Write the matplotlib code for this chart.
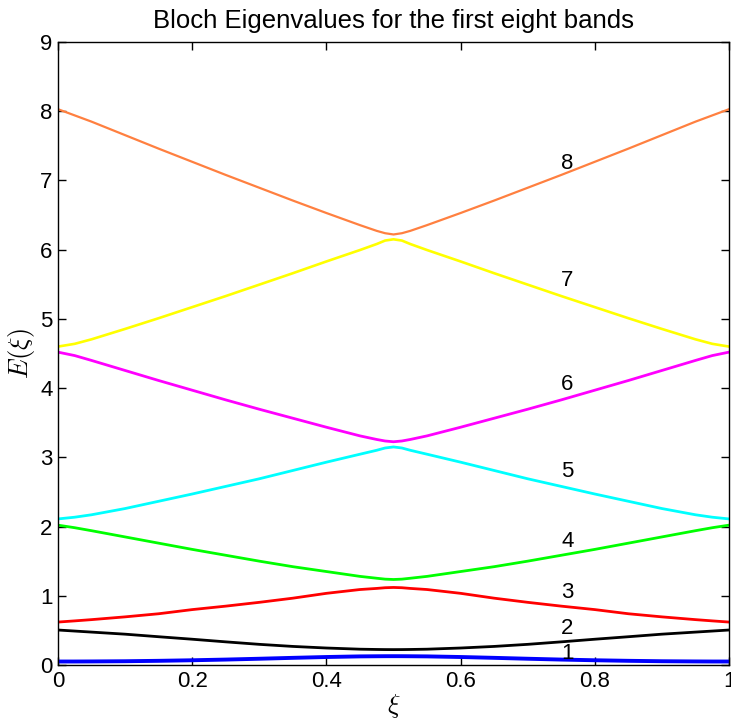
import matplotlib
matplotlib.use("Agg")
import matplotlib.pyplot as plt

plt.rcParams['font.family'] = ['Liberation Sans', 'DejaVu Sans']
plt.rcParams['mathtext.fontset'] = 'cm'

xi = [0, 0.025, 0.05, 0.1, 0.15, 0.2, 0.25, 0.3, 0.35, 0.4, 0.45, 0.475, 0.4875, 0.5,
      0.5125, 0.525, 0.55, 0.6, 0.65, 0.7, 0.75, 0.8, 0.85, 0.9, 0.95, 0.975, 1.0]

band1 = [0.050, 0.050, 0.051, 0.054, 0.060, 0.068, 0.078, 0.090, 0.103, 0.115, 0.124, 0.126, 0.1268, 0.127,
         0.1268, 0.126, 0.124, 0.115, 0.103, 0.090, 0.078, 0.068, 0.060, 0.054, 0.051, 0.050, 0.050]
band2 = [0.505, 0.490, 0.475, 0.445, 0.408, 0.372, 0.334, 0.298, 0.268, 0.245, 0.228, 0.224, 0.2225, 0.222,
         0.2225, 0.224, 0.228, 0.245, 0.268, 0.298, 0.334, 0.372, 0.408, 0.445, 0.475, 0.490, 0.505]
band3 = [0.620, 0.637, 0.655, 0.695, 0.740, 0.800, 0.850, 0.905, 0.965, 1.035, 1.090, 1.106, 1.116, 1.120,
         1.116, 1.106, 1.090, 1.035, 0.965, 0.905, 0.850, 0.800, 0.740, 0.695, 0.655, 0.637, 0.620]
band4 = [2.020, 1.983, 1.940, 1.850, 1.760, 1.670, 1.585, 1.500, 1.420, 1.350, 1.280, 1.253, 1.240, 1.235,
         1.240, 1.253, 1.280, 1.350, 1.420, 1.500, 1.585, 1.670, 1.760, 1.850, 1.940, 1.983, 2.020]
band5 = [2.110, 2.135, 2.170, 2.260, 2.365, 2.470, 2.580, 2.690, 2.810, 2.930, 3.045, 3.102, 3.135, 3.150,
         3.135, 3.102, 3.045, 2.930, 2.810, 2.690, 2.580, 2.470, 2.365, 2.260, 2.170, 2.135, 2.110]
band6 = [4.520, 4.470, 4.400, 4.255, 4.110, 3.970, 3.830, 3.695, 3.565, 3.435, 3.310, 3.258, 3.236, 3.225,
         3.236, 3.258, 3.310, 3.435, 3.565, 3.695, 3.830, 3.970, 4.110, 4.255, 4.400, 4.470, 4.520]
band7 = [4.600, 4.640, 4.705, 4.855, 5.010, 5.170, 5.330, 5.495, 5.660, 5.830, 5.995, 6.082, 6.132, 6.150,
         6.132, 6.082, 5.995, 5.830, 5.660, 5.495, 5.330, 5.170, 5.010, 4.855, 4.705, 4.640, 4.600]
band8 = [8.030, 7.940, 7.850, 7.655, 7.460, 7.270, 7.080, 6.895, 6.710, 6.530, 6.355, 6.272, 6.238, 6.220,
         6.238, 6.272, 6.355, 6.530, 6.710, 6.895, 7.080, 7.270, 7.460, 7.655, 7.850, 7.940, 8.030]

bands = [band1, band2, band3, band4, band5, band6, band7, band8]
colors = ['#0000ff', '#000000', '#ff0000', '#00ff00', '#00ffff', '#ff00ff', '#ffff00', '#ff8040']
widths = [2.8, 2.0, 2.0, 2.0, 2.0, 2.0, 1.9, 1.6]

label_text = ['1', '2', '3', '4', '5', '6', '7', '8']
label_x = 0.75
label_y = [0.17, 0.53, 1.04, 1.78, 2.79, 4.05, 5.55, 7.25]

fig = plt.figure(figsize=(7.31, 7.25), dpi=100)
ax = fig.add_axes([0.0793, 0.0828, 0.918, 0.8592])

for b, c, w in zip(bands, colors, widths):
    ax.plot(xi, b, color=c, lw=w, solid_joinstyle='round')

for t, y in zip(label_text, label_y):
    ax.text(label_x, y, t, ha='left', va='center', fontsize=16, color='black')

ax.set_xlim(0, 1)
ax.set_ylim(0, 9)
ax.set_xticks([0, 0.2, 0.4, 0.6, 0.8, 1])
ax.set_xticklabels(['0', '0.2', '0.4', '0.6', '0.8', '1'])
ax.set_yticks(range(10))
ax.tick_params(direction='in', top=True, right=True, length=6, width=1,
               labelsize=16, pad=4)
for s in ax.spines.values():
    s.set_linewidth(1.0)

ax.set_title('Bloch Eigenvalues for the first eight bands', fontsize=18.5, pad=10)
ax.set_xlabel(r'$\xi$', fontsize=19, labelpad=0)
ax.set_ylabel(r'$E(\xi)$', fontsize=19, labelpad=2)

fig.savefig('out.png', dpi=100)
